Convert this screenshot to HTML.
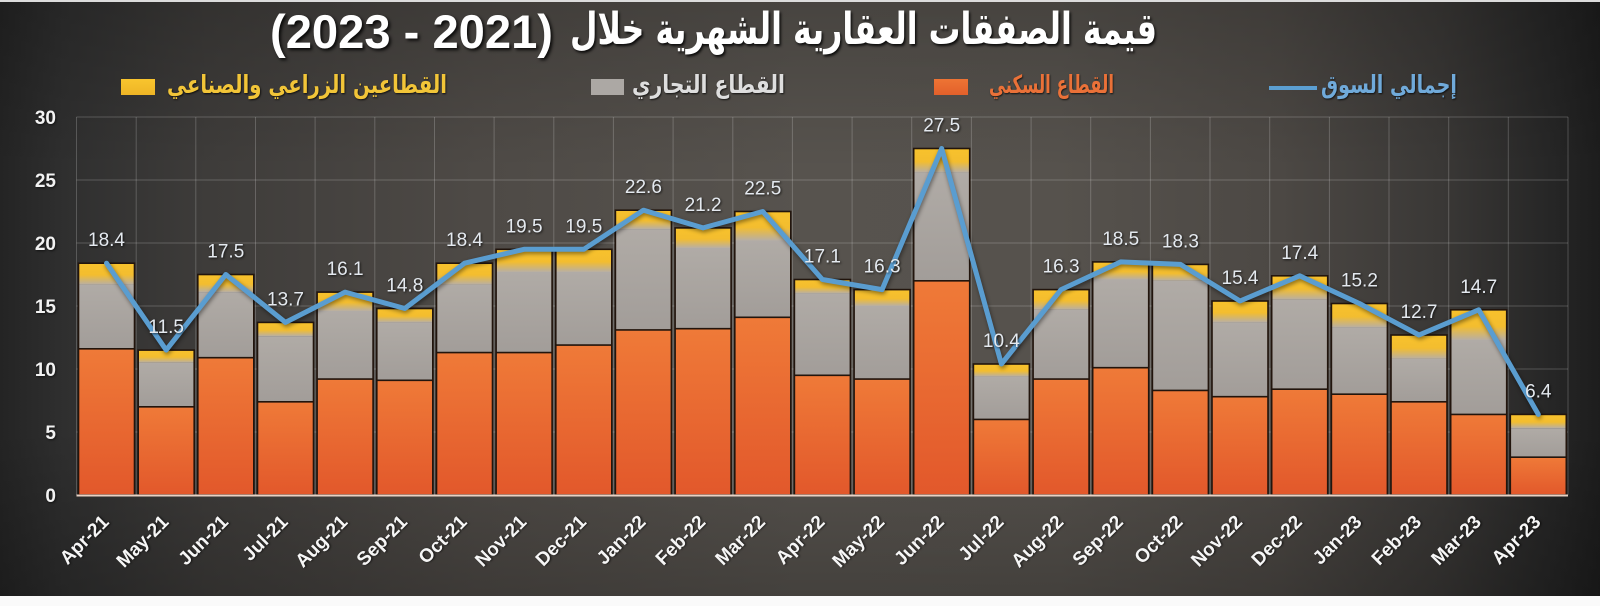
<!DOCTYPE html>
<html lang="ar">
<head>
<meta charset="utf-8">
<style>
  html,body{margin:0;padding:0;}
  body{width:1600px;height:606px;overflow:hidden;background:#fafafa;position:relative;font-family:"Liberation Sans","DejaVu Sans",sans-serif;}
  #bg{position:absolute;left:0;top:2px;width:1600px;height:594px;
    background:
      linear-gradient(to bottom, rgba(0,0,0,0.18) 0%, rgba(0,0,0,0) 28%, rgba(0,0,0,0) 72%, rgba(0,0,0,0.22) 100%),
      linear-gradient(to right, #242424 0%, #2f2f2f 4%, #3e3c3a 13%, #4e4a46 30%, #57534e 50%, #56524d 66%, #4c4844 80%, #3a3836 90%, #262626 97%, #1d1d1d 100%);}
  #topline{position:absolute;left:0;top:0;width:1600px;height:2px;background:#dcdcdc;}
  svg{position:absolute;left:0;top:0;}
  .tx{position:absolute;white-space:nowrap;transform-origin:0 50%;line-height:1;font-weight:bold;}
  #t_ar{font-family:"DejaVu Sans","Liberation Sans",sans-serif;font-size:44px;color:#ffffff;top:8px;left:570px;text-shadow:2px 2px 3px rgba(0,0,0,0.85);}
  #t_num{font-family:"Liberation Sans","DejaVu Sans",sans-serif;font-size:47px;color:#ffffff;top:8px;left:270px;text-shadow:2px 2px 3px rgba(0,0,0,0.85);}
  .lg{font-family:"DejaVu Sans","Liberation Sans",sans-serif;font-size:25px;top:72px;text-shadow:1px 1px 2px rgba(0,0,0,0.75);}
  #l_y{color:#f2c538;left:165px;}
  #l_g{color:#dedede;left:632px;}
  #l_o{color:#ea7138;left:989px;}
  #l_b{color:#70aada;left:1321px;}
  .sw{position:absolute;height:16px;top:79px;}
</style>
</head>
<body>
<div id="bg"></div>
<div id="topline"></div>

<svg width="1600" height="606" viewBox="0 0 1600 606" xmlns="http://www.w3.org/2000/svg">
  <defs>
    <linearGradient id="gO" x1="0" y1="0" x2="0" y2="1">
      <stop offset="0" stop-color="#ef7a38"/>
      <stop offset="1" stop-color="#e2582b"/>
    </linearGradient>
    <linearGradient id="gG" x1="0" y1="0" x2="0" y2="1">
      <stop offset="0" stop-color="#b0aba6"/>
      <stop offset="1" stop-color="#a29d99"/>
    </linearGradient>
    <linearGradient id="gY" x1="0" y1="0" x2="0" y2="1">
      <stop offset="0" stop-color="#f8c22c"/>
      <stop offset="0.55" stop-color="#f3bd2f"/>
      <stop offset="1" stop-color="#b8afa4"/>
    </linearGradient>
  </defs>

  <g stroke="rgba(255,255,255,0.2)" stroke-width="1" fill="none">
    <path d="M76.5 117H1568M76.5 180H1568M76.5 243H1568M76.5 306H1568M76.5 369H1568M76.5 432H1568"/>
    <path d="M76.5 117V495M136.2 117V495M195.8 117V495M255.5 117V495M315.1 117V495M374.8 117V495M434.5 117V495M494.1 117V495M553.8 117V495M613.4 117V495M673.1 117V495M732.8 117V495M792.4 117V495M852.1 117V495M911.7 117V495M971.4 117V495M1031.1 117V495M1090.7 117V495M1150.4 117V495M1210 117V495M1269.7 117V495M1329.4 117V495M1389 117V495M1448.7 117V495M1508.3 117V495M1568 117V495"/>
  </g>

  <g fill="url(#gY)">
    <rect x="78.5" y="263.2" width="56" height="21.4"/>
    <rect x="138.2" y="350.1" width="56" height="12.6"/>
    <rect x="197.8" y="274.5" width="56" height="17.6"/>
    <rect x="257.5" y="322.4" width="56" height="13.8"/>
    <rect x="317.1" y="292.1" width="56" height="18.9"/>
    <rect x="376.8" y="308.5" width="56" height="13.9"/>
    <rect x="436.5" y="263.2" width="56" height="21.4"/>
    <rect x="496.1" y="249.3" width="56" height="22.7"/>
    <rect x="555.8" y="249.3" width="56" height="22.7"/>
    <rect x="615.4" y="210.2" width="56" height="18.9"/>
    <rect x="675.1" y="227.9" width="56" height="20.1"/>
    <rect x="734.8" y="211.5" width="56" height="29.0"/>
    <rect x="794.4" y="279.5" width="56" height="13.9"/>
    <rect x="854.1" y="289.6" width="56" height="16.4"/>
    <rect x="913.7" y="148.5" width="56" height="23.9"/>
    <rect x="973.4" y="364.0" width="56" height="12.6"/>
    <rect x="1033.1" y="289.6" width="56" height="20.2"/>
    <rect x="1092.7" y="261.9" width="56" height="17.6"/>
    <rect x="1152.4" y="264.4" width="56" height="16.4"/>
    <rect x="1212.0" y="301.0" width="56" height="21.4"/>
    <rect x="1271.7" y="275.8" width="56" height="23.9"/>
    <rect x="1331.4" y="303.5" width="56" height="23.9"/>
    <rect x="1391.0" y="335.0" width="56" height="23.9"/>
    <rect x="1450.7" y="309.8" width="56" height="30.2"/>
    <rect x="1510.3" y="414.4" width="56" height="13.8"/>
  </g>

  <g fill="url(#gG)">
    <rect x="78.5" y="284.6" width="56" height="64.2"/>
    <rect x="138.2" y="362.7" width="56" height="44.1"/>
    <rect x="197.8" y="292.1" width="56" height="65.6"/>
    <rect x="257.5" y="336.2" width="56" height="65.6"/>
    <rect x="317.1" y="311.0" width="56" height="68.1"/>
    <rect x="376.8" y="322.4" width="56" height="57.9"/>
    <rect x="436.5" y="284.6" width="56" height="68.0"/>
    <rect x="496.1" y="272.0" width="56" height="80.6"/>
    <rect x="555.8" y="272.0" width="56" height="73.1"/>
    <rect x="615.4" y="229.1" width="56" height="100.8"/>
    <rect x="675.1" y="248.0" width="56" height="80.7"/>
    <rect x="734.8" y="240.5" width="56" height="76.8"/>
    <rect x="794.4" y="293.4" width="56" height="81.9"/>
    <rect x="854.1" y="306.0" width="56" height="73.1"/>
    <rect x="913.7" y="172.4" width="56" height="108.4"/>
    <rect x="973.4" y="376.6" width="56" height="42.8"/>
    <rect x="1033.1" y="309.8" width="56" height="69.3"/>
    <rect x="1092.7" y="279.5" width="56" height="88.2"/>
    <rect x="1152.4" y="280.8" width="56" height="109.6"/>
    <rect x="1212.0" y="322.4" width="56" height="74.3"/>
    <rect x="1271.7" y="299.7" width="56" height="89.5"/>
    <rect x="1331.4" y="327.4" width="56" height="66.8"/>
    <rect x="1391.0" y="358.9" width="56" height="42.9"/>
    <rect x="1450.7" y="340.0" width="56" height="74.4"/>
    <rect x="1510.3" y="428.2" width="56" height="29.0"/>
  </g>

  <g fill="url(#gO)">
    <rect x="78.5" y="348.8" width="56" height="146.2"/>
    <rect x="138.2" y="406.8" width="56" height="88.2"/>
    <rect x="197.8" y="357.7" width="56" height="137.3"/>
    <rect x="257.5" y="401.8" width="56" height="93.2"/>
    <rect x="317.1" y="379.1" width="56" height="115.9"/>
    <rect x="376.8" y="380.3" width="56" height="114.7"/>
    <rect x="436.5" y="352.6" width="56" height="142.4"/>
    <rect x="496.1" y="352.6" width="56" height="142.4"/>
    <rect x="555.8" y="345.1" width="56" height="149.9"/>
    <rect x="615.4" y="329.9" width="56" height="165.1"/>
    <rect x="675.1" y="328.7" width="56" height="166.3"/>
    <rect x="734.8" y="317.3" width="56" height="177.7"/>
    <rect x="794.4" y="375.3" width="56" height="119.7"/>
    <rect x="854.1" y="379.1" width="56" height="115.9"/>
    <rect x="913.7" y="280.8" width="56" height="214.2"/>
    <rect x="973.4" y="419.4" width="56" height="75.6"/>
    <rect x="1033.1" y="379.1" width="56" height="115.9"/>
    <rect x="1092.7" y="367.7" width="56" height="127.3"/>
    <rect x="1152.4" y="390.4" width="56" height="104.6"/>
    <rect x="1212.0" y="396.7" width="56" height="98.3"/>
    <rect x="1271.7" y="389.2" width="56" height="105.8"/>
    <rect x="1331.4" y="394.2" width="56" height="100.8"/>
    <rect x="1391.0" y="401.8" width="56" height="93.2"/>
    <rect x="1450.7" y="414.4" width="56" height="80.6"/>
    <rect x="1510.3" y="457.2" width="56" height="37.8"/>
  </g>

  <g fill="none" stroke="#22150d" stroke-width="1.6">
    <rect x="78.5" y="263.2" width="56" height="231.8"/>
    <rect x="138.2" y="350.1" width="56" height="144.9"/>
    <rect x="197.8" y="274.5" width="56" height="220.5"/>
    <rect x="257.5" y="322.4" width="56" height="172.6"/>
    <rect x="317.1" y="292.1" width="56" height="202.9"/>
    <rect x="376.8" y="308.5" width="56" height="186.5"/>
    <rect x="436.5" y="263.2" width="56" height="231.8"/>
    <rect x="496.1" y="249.3" width="56" height="245.7"/>
    <rect x="555.8" y="249.3" width="56" height="245.7"/>
    <rect x="615.4" y="210.2" width="56" height="284.8"/>
    <rect x="675.1" y="227.9" width="56" height="267.1"/>
    <rect x="734.8" y="211.5" width="56" height="283.5"/>
    <rect x="794.4" y="279.5" width="56" height="215.5"/>
    <rect x="854.1" y="289.6" width="56" height="205.4"/>
    <rect x="913.7" y="148.5" width="56" height="346.5"/>
    <rect x="973.4" y="364.0" width="56" height="131.0"/>
    <rect x="1033.1" y="289.6" width="56" height="205.4"/>
    <rect x="1092.7" y="261.9" width="56" height="233.1"/>
    <rect x="1152.4" y="264.4" width="56" height="230.6"/>
    <rect x="1212.0" y="301.0" width="56" height="194.0"/>
    <rect x="1271.7" y="275.8" width="56" height="219.2"/>
    <rect x="1331.4" y="303.5" width="56" height="191.5"/>
    <rect x="1391.0" y="335.0" width="56" height="160.0"/>
    <rect x="1450.7" y="309.8" width="56" height="185.2"/>
    <rect x="1510.3" y="414.4" width="56" height="80.6"/>
    <path d="M78.5 348.8h56M138.2 406.8h56M197.8 357.7h56M257.5 401.8h56M317.1 379.1h56M376.8 380.3h56M436.5 352.6h56M496.1 352.6h56M555.8 345.1h56M615.4 329.9h56M675.1 328.7h56M734.8 317.3h56M794.4 375.3h56M854.1 379.1h56M913.7 280.8h56M973.4 419.4h56M1033.1 379.1h56M1092.7 367.7h56M1152.4 390.4h56M1212 396.7h56M1271.7 389.2h56M1331.4 394.2h56M1391 401.8h56M1450.7 414.4h56M1510.3 457.2h56"/>
  </g>

  <line x1="76.5" y1="495.5" x2="1568" y2="495.5" stroke="#e9d2c4" stroke-width="2"/>

  <polyline fill="none" stroke="#5a9dd0" stroke-width="5" stroke-linejoin="round" stroke-linecap="round"
    style="filter:drop-shadow(1px 2px 2px rgba(0,0,0,0.45))"
    points="106.5,263.2 166.2,350.1 225.8,274.5 285.5,322.4 345.1,292.1 404.8,308.5 464.5,263.2 524.1,249.3 583.8,249.3 643.4,210.2 703.1,227.9 762.8,211.5 822.4,279.5 882.1,289.6 941.7,148.5 1001.4,364.0 1061.1,289.6 1120.7,261.9 1180.4,264.4 1240.0,301.0 1299.7,275.8 1359.4,303.5 1419.0,335.0 1478.7,309.8 1538.3,414.4"/>

  <g font-family="Liberation Sans, sans-serif" font-size="19" fill="#e4e9ef" text-anchor="middle" style="text-shadow:1px 1px 2px rgba(0,0,0,0.7)">
    <text x="106.5" y="246.2">18.4</text>
    <text x="166.2" y="333.1">11.5</text>
    <text x="225.8" y="257.5">17.5</text>
    <text x="285.5" y="305.4">13.7</text>
    <text x="345.1" y="275.1">16.1</text>
    <text x="404.8" y="291.5">14.8</text>
    <text x="464.5" y="246.2">18.4</text>
    <text x="524.1" y="232.3">19.5</text>
    <text x="583.8" y="232.3">19.5</text>
    <text x="643.4" y="193.2">22.6</text>
    <text x="703.1" y="210.9">21.2</text>
    <text x="762.8" y="194.5">22.5</text>
    <text x="822.4" y="262.5">17.1</text>
    <text x="882.1" y="272.6">16.3</text>
    <text x="941.7" y="131.5">27.5</text>
    <text x="1001.4" y="347.0">10.4</text>
    <text x="1061.1" y="272.6">16.3</text>
    <text x="1120.7" y="244.9">18.5</text>
    <text x="1180.4" y="247.4">18.3</text>
    <text x="1240.0" y="284.0">15.4</text>
    <text x="1299.7" y="258.8">17.4</text>
    <text x="1359.4" y="286.5">15.2</text>
    <text x="1419.0" y="318.0">12.7</text>
    <text x="1478.7" y="292.8">14.7</text>
    <text x="1538.3" y="397.4">6.4</text>
  </g>

  <g font-family="Liberation Sans, sans-serif" font-size="19" font-weight="bold" fill="#f2f2f2" text-anchor="end" style="text-shadow:1px 1px 2px rgba(0,0,0,0.6)">
    <text x="56" y="124">30</text>
    <text x="56" y="187">25</text>
    <text x="56" y="250">20</text>
    <text x="56" y="313">15</text>
    <text x="56" y="376">10</text>
    <text x="56" y="439">5</text>
    <text x="56" y="502">0</text>
  </g>

  <g font-family="Liberation Sans, sans-serif" font-size="19" font-weight="bold" fill="#f6f6f6" text-anchor="end" style="text-shadow:1px 1px 2px rgba(0,0,0,0.6)">
    <text transform="translate(110,523) rotate(-45)">Apr-21</text>
    <text transform="translate(169.7,523) rotate(-45)">May-21</text>
    <text transform="translate(229.3,523) rotate(-45)">Jun-21</text>
    <text transform="translate(289,523) rotate(-45)">Jul-21</text>
    <text transform="translate(348.6,523) rotate(-45)">Aug-21</text>
    <text transform="translate(408.3,523) rotate(-45)">Sep-21</text>
    <text transform="translate(468,523) rotate(-45)">Oct-21</text>
    <text transform="translate(527.6,523) rotate(-45)">Nov-21</text>
    <text transform="translate(587.3,523) rotate(-45)">Dec-21</text>
    <text transform="translate(646.9,523) rotate(-45)">Jan-22</text>
    <text transform="translate(706.6,523) rotate(-45)">Feb-22</text>
    <text transform="translate(766.3,523) rotate(-45)">Mar-22</text>
    <text transform="translate(825.9,523) rotate(-45)">Apr-22</text>
    <text transform="translate(885.6,523) rotate(-45)">May-22</text>
    <text transform="translate(945.2,523) rotate(-45)">Jun-22</text>
    <text transform="translate(1004.9,523) rotate(-45)">Jul-22</text>
    <text transform="translate(1064.6,523) rotate(-45)">Aug-22</text>
    <text transform="translate(1124.2,523) rotate(-45)">Sep-22</text>
    <text transform="translate(1183.9,523) rotate(-45)">Oct-22</text>
    <text transform="translate(1243.5,523) rotate(-45)">Nov-22</text>
    <text transform="translate(1303.2,523) rotate(-45)">Dec-22</text>
    <text transform="translate(1362.9,523) rotate(-45)">Jan-23</text>
    <text transform="translate(1422.5,523) rotate(-45)">Feb-23</text>
    <text transform="translate(1482.2,523) rotate(-45)">Mar-23</text>
    <text transform="translate(1541.8,523) rotate(-45)">Apr-23</text>
  </g>

  <rect x="0" y="596" width="1600" height="10" fill="#fafafa"/>
</svg>

<div id="t_num" class="tx" dir="rtl">(2021 - 2023)</div>
<div id="t_ar" class="tx" dir="rtl">قيمة الصفقات العقارية الشهرية خلال</div>

<div class="sw" style="left:121px;width:34px;background:linear-gradient(#f9c52e,#eeb526);"></div>
<div id="l_y" class="tx lg" dir="rtl">القطاعين الزراعي والصناعي</div>
<div class="sw" style="left:591px;width:33px;background:#aca8a4;"></div>
<div id="l_g" class="tx lg" dir="rtl">القطاع التجاري</div>
<div class="sw" style="left:934px;width:34px;background:linear-gradient(#ee7434,#e2602b);"></div>
<div id="l_o" class="tx lg" dir="rtl">القطاع السكني</div>
<div style="position:absolute;left:1269px;top:86px;width:48px;height:4px;background:#5b9fd2;"></div>
<div id="l_b" class="tx lg" dir="rtl">إجمالي السوق</div>

<script>
(function(){
  var items=[['t_ar',570,587],['t_num',270,283],['l_y',167,280],['l_g',632,153],['l_o',989,125],['l_b',1321,136]];
  for(var i=0;i<items.length;i++){
    var e=document.getElementById(items[i][0]);
    if(!e) continue;
    var w=e.getBoundingClientRect().width;
    if(w>0){
      e.style.left=items[i][1]+'px';
      e.style.transform='scaleX('+(items[i][2]/w)+')';
    }
  }
})();
</script>
</body>
</html>
